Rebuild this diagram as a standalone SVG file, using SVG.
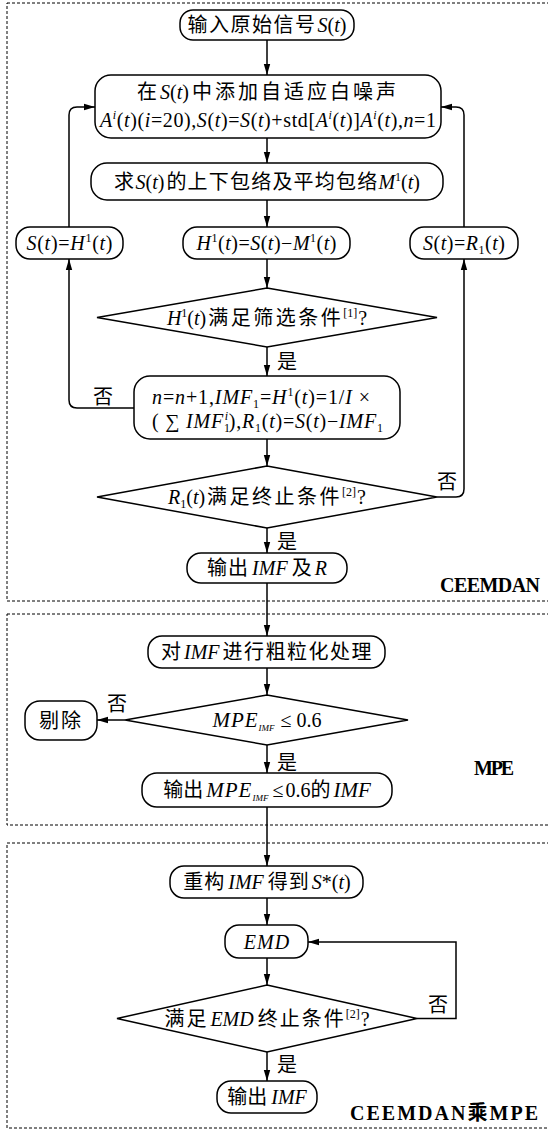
<svg xmlns="http://www.w3.org/2000/svg" width="548" height="1131" viewBox="0 0 548 1131">
<style>
.n{fill:#fff;stroke:#000;stroke-width:1.5}
.t{font-family:'Liberation Serif','Noto Sans CJK SC',serif;font-size:20px;fill:#000}
.i{font-style:italic}
.s{font-size:12px}
.L{font-size:21px;font-style:italic}
.c{fill:none;stroke:#000;stroke-width:1.5}
.f{fill:none;stroke:#000;stroke-width:1;stroke-dasharray:3 2}
.b{font-family:'Liberation Serif','Noto Sans CJK SC',serif;font-size:20px;font-weight:bold;fill:#000}
</style>
<defs>
<marker id="a" markerWidth="11" markerHeight="8" refX="11" refY="4" orient="auto" markerUnits="userSpaceOnUse"><path d="M0,0.8 L11,4 L0,7.2 Z" fill="#000"/></marker>
</defs>
<g id="frames">
<rect class="f" x="7" y="3" width="560" height="598"/>
<rect class="f" x="7" y="614" width="560" height="211"/>
<rect class="f" x="7" y="843" width="560" height="285"/>
<text class="b" x="440" y="592" textLength="100" lengthAdjust="spacing">CEEMDAN</text>
<text class="b" x="474" y="775" textLength="40" lengthAdjust="spacing">MPE</text>
<text class="b" x="350" y="1120" textLength="188" lengthAdjust="spacing">CEEMDAN乘MPE</text>
</g>
<g id="connectors">
<path class="c" d="M267,40 V75" marker-end="url(#a)"/>
<path class="c" d="M267,138 V163" marker-end="url(#a)"/>
<path class="c" d="M267,200 V227" marker-end="url(#a)"/>
<path class="c" d="M267,259 V288" marker-end="url(#a)"/>
<path class="c" d="M267,347 V376" marker-end="url(#a)"/>
<path class="c" d="M134,408 H77 Q69,408 69,400 V259" marker-end="url(#a)"/>
<path class="c" d="M69,227 V115 Q69,107 77,107 H95" marker-end="url(#a)"/>
<path class="c" d="M267,439 V466" marker-end="url(#a)"/>
<path class="c" d="M437,497 H456 Q464,497 464,489 V259" marker-end="url(#a)"/>
<path class="c" d="M464,227 V115 Q464,107 456,107 H441" marker-end="url(#a)"/>
<path class="c" d="M267,528 V553" marker-end="url(#a)"/>
<path class="c" d="M267,583 V636" marker-end="url(#a)"/>
<path class="c" d="M267,668 V695" marker-end="url(#a)"/>
<path class="c" d="M125,720 H97" marker-end="url(#a)"/>
<path class="c" d="M267,745 V773" marker-end="url(#a)"/>
<path class="c" d="M267,807 V866" marker-end="url(#a)"/>
<path class="c" d="M267,898 V925" marker-end="url(#a)"/>
<path class="c" d="M267,958 V985" marker-end="url(#a)"/>
<path class="c" d="M417,1018.5 H456 V942 H308" marker-end="url(#a)"/>
<path class="c" d="M267,1052 V1081" marker-end="url(#a)"/>
<text class="t" x="277" y="369">是</text>
<text class="t" x="93" y="404">否</text>
<text class="t" x="437" y="489">否</text>
<text class="t" x="277" y="549">是</text>
<text class="t" x="107" y="711">否</text>
<text class="t" x="277" y="770">是</text>
<text class="t" x="428" y="1012">否</text>
<text class="t" x="277" y="1072">是</text>
</g>
<g id="n1">
<rect class="n" x="180" y="10" width="174" height="30" rx="13"/>
<text class="t" x="267" y="32" text-anchor="middle"><tspan letter-spacing="1.5">输入原始信号</tspan><tspan class="i" dx="1">S</tspan>(<tspan class="i">t</tspan>)</text>
</g>
<g id="n2">
<rect class="n" x="95" y="75" width="346" height="63" rx="16"/>
<text class="t" x="268" y="99" text-anchor="middle"><tspan letter-spacing="2">在</tspan><tspan class="i" dx="1">S</tspan>(<tspan class="i">t</tspan>)<tspan dx="3" letter-spacing="3">中添加自适应白噪声</tspan></text>
<text class="t" x="268" y="127" text-anchor="middle" textLength="336" lengthAdjust="spacing"><tspan class="i">A</tspan><tspan class="i s" dy="-8">i</tspan><tspan dy="8">(</tspan><tspan class="i">t</tspan>)(<tspan class="i">i</tspan>=20),<tspan class="i">S</tspan>(<tspan class="i">t</tspan>)=<tspan class="i">S</tspan>(<tspan class="i">t</tspan>)+std[<tspan class="i">A</tspan><tspan class="i s" dy="-8">i</tspan><tspan dy="8">(</tspan><tspan class="i">t</tspan>)]<tspan class="i">A</tspan><tspan class="i s" dy="-8">i</tspan><tspan dy="8">(</tspan><tspan class="i">t</tspan>),<tspan class="i">n</tspan>=1</text>
</g>
<g id="n3">
<rect class="n" x="91" y="163" width="352" height="37" rx="16"/>
<text class="t" x="267" y="189" text-anchor="middle"><tspan letter-spacing="1.5">求</tspan><tspan class="i">S</tspan>(<tspan class="i">t</tspan>)<tspan dx="2" letter-spacing="1.2">的上下包络及平均包络</tspan><tspan class="i">M</tspan><tspan class="s" dy="-8">1</tspan><tspan dy="8">(</tspan><tspan class="i">t</tspan>)</text>
</g>
<g id="n4">
<rect class="n" x="16" y="227" width="107" height="32" rx="14"/>
<text class="t" x="69.5" y="250" text-anchor="middle" textLength="86" lengthAdjust="spacing"><tspan class="i">S</tspan>(<tspan class="i">t</tspan>)=<tspan class="i">H</tspan><tspan class="s" dy="-8">1</tspan><tspan dy="8">(</tspan><tspan class="i">t</tspan>)</text>
</g>
<g id="n5">
<rect class="n" x="183" y="227" width="167" height="32" rx="14"/>
<text class="t" x="266.5" y="250" text-anchor="middle" textLength="140" lengthAdjust="spacing"><tspan class="i">H</tspan><tspan class="s" dy="-8">1</tspan><tspan dy="8">(</tspan><tspan class="i">t</tspan>)=<tspan class="i">S</tspan>(<tspan class="i">t</tspan>)−<tspan class="i">M</tspan><tspan class="s" dy="-8">1</tspan><tspan dy="8">(</tspan><tspan class="i">t</tspan>)</text>
</g>
<g id="n6">
<rect class="n" x="410" y="227" width="108" height="32" rx="14"/>
<text class="t" x="464" y="250" text-anchor="middle" textLength="82" lengthAdjust="spacing"><tspan class="i">S</tspan>(<tspan class="i">t</tspan>)=<tspan class="i">R</tspan><tspan class="s" dy="4">1</tspan><tspan dy="-4">(</tspan><tspan class="i">t</tspan>)</text>
</g>
<g id="n7">
<polygon class="n" points="267,288 437,317.5 267,347 97,317.5"/>
<text class="t" x="267" y="325" text-anchor="middle"><tspan class="i">H</tspan><tspan class="s" dy="-8">1</tspan><tspan dy="8">(</tspan><tspan class="i">t</tspan>)<tspan dx="2" letter-spacing="2.5">满足筛选条件</tspan><tspan class="s" dy="-8">[1]</tspan><tspan dy="8" dx="1">?</tspan></text>
</g>
<g id="n8">
<rect class="n" x="134" y="376" width="266" height="63" rx="16"/>
<text class="t" x="152" y="404" textLength="218" lengthAdjust="spacing"><tspan class="i">n</tspan>=<tspan class="i">n</tspan>+1,<tspan class="i">IMF</tspan><tspan class="s" dy="4">1</tspan><tspan dy="-4">=</tspan><tspan class="i">H</tspan><tspan class="s" dy="-8">1</tspan><tspan dy="8">(</tspan><tspan class="i">t</tspan>)=1/<tspan class="i">I</tspan> ×</text>
<text class="t" x="152" y="428" textLength="231" lengthAdjust="spacing">( ∑ <tspan class="i">IMF</tspan><tspan class="s" dy="4">1</tspan><tspan class="i s" dx="-6" dy="-12">i</tspan><tspan dy="8">),</tspan><tspan class="i">R</tspan><tspan class="s" dy="4">1</tspan><tspan dy="-4">(</tspan><tspan class="i">t</tspan>)=<tspan class="i">S</tspan>(<tspan class="i">t</tspan>)−<tspan class="i">IMF</tspan><tspan class="s" dy="4">1</tspan></text>
</g>
<g id="n9">
<polygon class="n" points="267,466 437,497 267,528 97,497"/>
<text class="t" x="267" y="504" text-anchor="middle"><tspan class="i">R</tspan><tspan class="s" dy="4">1</tspan><tspan dy="-4">(</tspan><tspan class="i">t</tspan>)<tspan dx="2" letter-spacing="2.5">满足终止条件</tspan><tspan class="s" dy="-8">[2]</tspan><tspan dy="8" dx="1">?</tspan></text>
</g>
<g id="n10">
<rect class="n" x="187" y="553" width="160" height="30" rx="14"/>
<text class="t" x="267" y="575" text-anchor="middle"><tspan letter-spacing="1">输出</tspan><tspan class="i" dx="3">IMF</tspan><tspan dx="4">及</tspan><tspan class="i" dx="3">R</tspan></text>
</g>
<g id="n11">
<rect class="n" x="148" y="636" width="237" height="32" rx="14"/>
<text class="t" x="267" y="659" text-anchor="middle">对<tspan class="i" dx="3">IMF</tspan><tspan dx="3" letter-spacing="1.5">进行粗粒化处理</tspan></text>
</g>
<g id="n12">
<polygon class="n" points="267,695 408,720 267,745 125,720"/>
<text class="t" x="267" y="727" text-anchor="middle"><tspan class="L" letter-spacing="1">MPE</tspan><tspan class="i" font-size="9" dy="4">IMF</tspan><tspan dy="-4" dx="6">≤</tspan><tspan dx="5">0.6</tspan></text>
</g>
<g id="n13">
<rect class="n" x="25" y="701" width="72" height="39" rx="15"/>
<text class="t" x="61" y="728" text-anchor="middle" letter-spacing="2">剔除</text>
</g>
<g id="n14">
<rect class="n" x="142" y="773" width="250" height="34" rx="15"/>
<text class="t" x="267" y="797" text-anchor="middle">输出<tspan class="L" dx="3" letter-spacing="1">MPE</tspan><tspan class="i" font-size="9" dy="4">IMF</tspan><tspan dy="-4" dx="4">≤</tspan><tspan dx="2">0.6的</tspan><tspan class="L" dx="3">IMF</tspan></text>
</g>
<g id="n15">
<rect class="n" x="170" y="866" width="193" height="32" rx="14"/>
<text class="t" x="267" y="889" text-anchor="middle"><tspan letter-spacing="1">重构</tspan><tspan class="i" dx="3">IMF</tspan><tspan dx="4" letter-spacing="1">得到</tspan><tspan class="i" dx="2">S</tspan>*(<tspan class="i">t</tspan>)</text>
</g>
<g id="n16">
<rect class="n" x="225" y="925" width="83" height="33" rx="14"/>
<text class="t" x="267" y="949" text-anchor="middle" letter-spacing="1"><tspan class="i">EMD</tspan></text>
</g>
<g id="n17">
<polygon class="n" points="267,985 417,1018.5 267,1052 117,1018.5"/>
<text class="t" x="267" y="1026" text-anchor="middle"><tspan letter-spacing="2">满足</tspan><tspan class="i" dx="2">EMD</tspan><tspan dx="4" letter-spacing="2">终止条件</tspan><tspan class="s" dy="-8">[2]</tspan><tspan dy="8" dx="1">?</tspan></text>
</g>
<g id="n18">
<rect class="n" x="217" y="1081" width="100" height="32" rx="14"/>
<text class="t" x="267" y="1104" text-anchor="middle">输出<tspan class="i" dx="4">IMF</tspan></text>
</g>
</svg>
